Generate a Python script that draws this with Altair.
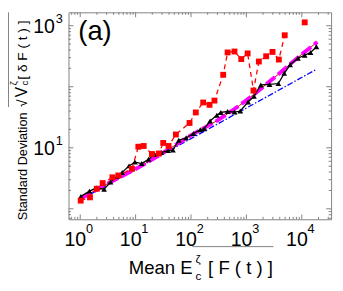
import altair as alt
import pandas as pd

# ---- data ----
red_x = [1.02, 1.50, 1.99, 2.54, 3.81, 4.87, 8.59, 11.2, 14.0, 19.7, 26.2, 31.5, 39.3, 53.3,
         94.1, 122, 166, 216, 265, 381, 458, 609, 808, 1052, 1342, 1679, 2276, 2960, 3853, 4918, 11290]
red_y = [1.36, 1.54, 2.13, 2.64, 3.28, 3.52, 4.53, 10.4, 10.7, 7.91, 8.06, 12.0, 10.7, 16.5,
         25.5, 37.9, 55.2, 50.5, 59.3, 157, 365, 378, 284, 352, 86.6, 259, 316, 372, 279, 698, 1135]
red_connected = [1] * 30 + [0]

blk_x = [1.03, 1.47, 1.99, 2.70, 3.52, 4.67, 5.72, 7.61, 9.70, 12.9, 17.1, 21.8, 29.0, 38.5, 47.2,
         60.2, 81.7, 111, 147, 173, 221, 293, 345, 458, 609, 776, 1074, 1371, 1820, 2624, 3776,
         4819, 6150, 8511, 11300, 14400, 18400]
blk_y = [1.60, 1.95, 2.21, 2.09, 2.74, 3.40, 3.93, 5.05, 5.83, 5.52, 6.49, 7.78, 8.36, 8.98, 9.14,
         13.3, 14.6, 17.1, 19.8, 20.5, 27.4, 34.0, 37.9, 39.3, 38.5, 40.0, 56.2, 69.8, 107, 109, 113,
         166, 229, 294, 328, 365, 453]

blue_x = [1.04, 18400]
blue_y = [1.43, 193]

mag_x = [1.0, 3.16, 10, 31.6, 100, 316, 1000, 3160, 10000, 19000]
mag_y = [1.45, 2.6, 4.5, 8.3, 16, 29, 60, 140, 340, 540]

x_decades = [1, 10, 100, 1000, 10000]
x_exps = ["0", "1", "2", "3", "4"]
y_lab_decades = [10, 1000]
y_exps = ["1", "3"]
y_decades = [1, 10, 100, 1000]

W, H = 269, 212
FONT = "Liberation Sans"
GRAY = "#7f7f7f"
xs = alt.Scale(type="log", domain=[0.615, 33800], nice=False)
ys = alt.Scale(type="log", domain=[0.673, 1656], nice=False)

red = pd.DataFrame({"x": red_x, "y": red_y, "c": red_connected})
blk = pd.DataFrame({"x": blk_x, "y": blk_y})
blue = pd.DataFrame({"x": blue_x, "y": blue_y})
mag = pd.DataFrame({"x": mag_x, "y": mag_y})

x_minor = [k * d for d in [0.1, 1, 10, 100, 1000, 10000] for k in range(2, 10) if 0.615 < k * d < 33800]
y_minor = [k * d for d in [0.1, 1, 10, 100, 1000] for k in range(2, 10) if 0.673 < k * d < 1656]
xt = pd.DataFrame({"v": x_decades + x_minor, "len": [5] * len(x_decades) + [2.5] * len(x_minor)})
yt = pd.DataFrame({"v": y_decades + y_minor, "len": [5] * len(y_decades) + [2.5] * len(y_minor)})

X = lambda: alt.X("x:Q", scale=xs, axis=None)
Y = lambda: alt.Y("y:Q", scale=ys, axis=None)

layers = []
# ticks (inward, on all four sides)
for side in ["bottom", "top"]:
    for L in [5, 2.5]:
        d = xt[xt["len"] == L]
        y0 = H if side == "bottom" else 0
        y1 = H - L if side == "bottom" else L
        layers.append(alt.Chart(d).mark_rule(color=GRAY, strokeWidth=1).encode(
            x=alt.X("v:Q", scale=xs, axis=None), y=alt.value(y0), y2=alt.value(y1)))
for side in ["left", "right"]:
    for L in [5, 2.5]:
        d = yt[yt["len"] == L]
        x0 = 0 if side == "left" else W
        x1 = L if side == "left" else W - L
        layers.append(alt.Chart(d).mark_rule(color=GRAY, strokeWidth=1).encode(
            y=alt.Y("v:Q", scale=ys, axis=None), x=alt.value(x0), x2=alt.value(x1)))

layers += [
    alt.Chart(blue).mark_line(color="#0000ff", strokeWidth=1.3, strokeDash=[6, 2, 1.5, 2]).encode(x=X(), y=Y()),
    alt.Chart(mag).mark_line(color="#cc0000", strokeWidth=1, interpolate="monotone").encode(x=X(), y=Y()),
    alt.Chart(mag).mark_line(color="#ff00ff", strokeWidth=4, strokeDash=[12, 4], interpolate="monotone").encode(x=X(), y=Y()),
    alt.Chart(blk).mark_line(color="black", strokeWidth=1.3).encode(x=X(), y=Y()),
    alt.Chart(blk).mark_point(shape="triangle-up", filled=True, color="black", size=34, opacity=1).encode(x=X(), y=Y()),
    alt.Chart(red).transform_filter("datum.c == 1").mark_line(color="#ff0000", strokeWidth=1.3, strokeDash=[5, 4]).encode(x=X(), y=Y()),
    alt.Chart(red).mark_point(shape="square", filled=True, color="#ff0000", size=36, opacity=1).encode(x=X(), y=Y()),
]

# tick labels
xl = pd.DataFrame({"x": x_decades, "e": x_exps})
layers += [
    alt.Chart(xl).mark_text(text="10", font=FONT, fontSize=20, align="center", baseline="alphabetic", dx=-5, color="black").encode(
        x=X(), y=alt.value(239)),
    alt.Chart(xl).mark_text(font=FONT, fontSize=13, align="center", baseline="alphabetic", dx=9.5, color="black").encode(
        x=X(), y=alt.value(226), text="e:N"),
]
yl = pd.DataFrame({"y": y_lab_decades, "e": y_exps})
layers += [
    alt.Chart(yl).mark_text(text="10", font=FONT, fontSize=20, align="right", baseline="alphabetic", dy=7, color="black").encode(
        y=Y(), x=alt.value(-14)),
    alt.Chart(yl).mark_text(font=FONT, fontSize=13, align="left", baseline="alphabetic", dy=-3, color="black").encode(
        y=Y(), x=alt.value(-13), text="e:N"),
]

def txt(s, x, y, size, angle=0, align="left"):
    return alt.Chart(pd.DataFrame({"t": [s]})).mark_text(
        font=FONT, fontSize=size, align=align, baseline="alphabetic", angle=angle, color="black").encode(
        x=alt.value(x), y=alt.value(y), text="t:N")

# panel label
layers.append(txt("(a)", 10, 28, 28))
# x title
layers += [
    txt("Mean E", 61.7, 267.7, 19),
    txt("ζ", 130, 257, 12),
    txt("c", 130, 274, 12),
    txt("[ F ( t ) ]", 143, 267.7, 19),
]
# y title (rotated)
layers += [
    txt("Standard Deviation", -42.5, 213, 13, angle=270),
    txt("√", -42.5, 97, 14, angle=270),
    txt("V", -43, 87, 16, angle=270),
    txt("ζ", -53, 75, 10, angle=270),
    txt("c", -41, 75, 10, angle=270),
    txt("[ δ F ( t ) ]", -42.5, 69, 14, angle=270),
]
# decorative rules (sqrt overline, stray line under tick labels)
layers += [
    alt.Chart(pd.DataFrame({"a": [0]})).mark_rule(color=GRAY, strokeWidth=1).encode(
        x=alt.value(-61.5), y=alt.value(0), y2=alt.value(97)),
    alt.Chart(pd.DataFrame({"a": [0]})).mark_rule(color=GRAY, strokeWidth=1).encode(
        x=alt.value(127), x2=alt.value(210), y=alt.value(240)),
]

chart = alt.layer(*layers).properties(
    width=W, height=H,
    padding={"left": 62, "top": 1, "right": 4, "bottom": 70},
    autosize=alt.AutoSizeParams(type="none"),
).configure_view(stroke=GRAY, strokeWidth=1)

chart.save("out.html", embed_options={"renderer": "svg", "actions": False})
